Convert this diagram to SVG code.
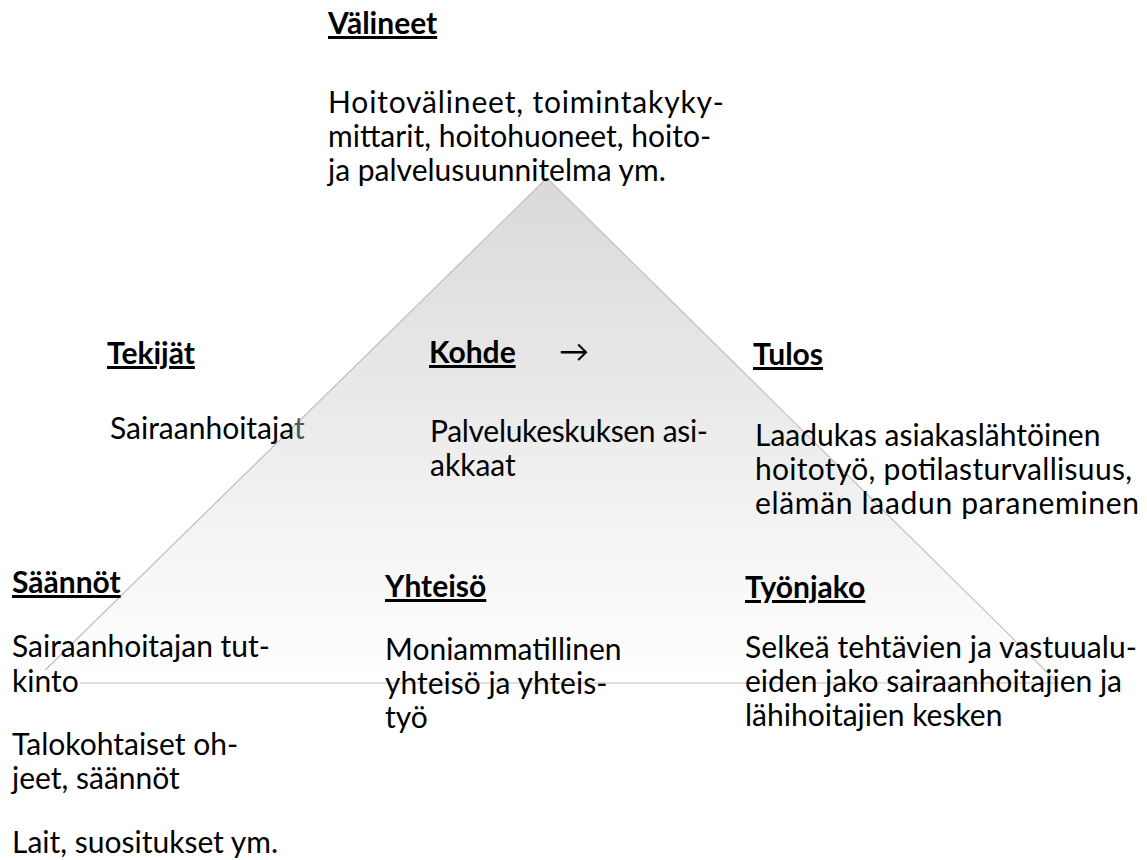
<svg xmlns="http://www.w3.org/2000/svg" width="1147" height="860" viewBox="0 0 1147 860">
<defs>
<linearGradient id="g" x1="0" y1="0" x2="0" y2="1">
<stop offset="0" stop-color="#d9d9d9"/>
<stop offset="1" stop-color="#ffffff"/>
</linearGradient>
<style>
text{font-family:Lato,"Open Sans","Liberation Sans",sans-serif;font-size:30px;fill:#000}
.h{font-weight:bold;text-decoration:underline}
</style>
</defs>
<rect width="1147" height="860" fill="#fff"/>
<g id="triangle">
<polygon points="547,178 32,683 1058,683" fill="url(#g)" stroke="#bfbfbf" stroke-width="1.2"/>
</g>
<g id="connectors"></g>
<g id="valineet">
<text class="h" x="328" y="34">Välineet</text>
<text x="328" y="113" textLength="396" lengthAdjust="spacing">Hoitovälineet, toimintakyky-</text>
<text x="328" y="147">mittarit, hoitohuoneet, hoito-</text>
<text x="328" y="181">ja palvelusuunnitelma ym.</text>
</g>
<g id="tekijat">
<text class="h" x="107" y="364">Tekijät</text>
<text x="110" y="439">Sairaanhoitaja<tspan fill="#555">t</tspan></text>
</g>
<g id="kohde">
<text class="h" x="429" y="363">Kohde</text>
<text x="559" y="362">→</text>
<text x="430" y="442" textLength="278" lengthAdjust="spacing">Palvelukeskuksen asi-</text>
<text x="430" y="476">akkaat</text>
</g>
<g id="tulos">
<text class="h" x="753" y="365">Tulos</text>
<text x="755" y="446">Laadukas asiakaslähtöinen</text>
<text x="755" y="480" textLength="377" lengthAdjust="spacing">hoitotyö, potilasturvallisuus,</text>
<text x="755" y="514" textLength="384" lengthAdjust="spacing">elämän laadun paraneminen</text>
</g>
<g id="saannot">
<text class="h" x="12" y="593">Säännöt</text>
<text x="12" y="657">Sairaanhoitajan tut-</text>
<rect x="12" y="670" width="68" height="26" fill="#fff"/>
<text x="12" y="692">kinto</text>
<text x="12" y="755">Talokohtaiset oh-</text>
<text x="12" y="789">jeet, säännöt</text>
<text x="12" y="853">Lait, suositukset ym.</text>
</g>
<g id="yhteiso">
<text class="h" x="385" y="597">Yhteisö</text>
<text x="385" y="660">Moniammatillinen</text>
<text x="385" y="694">yhteisö ja yhteis-</text>
<text x="385" y="728">työ</text>
</g>
<g id="tyonjako">
<text class="h" x="745" y="598">Työnjako</text>
<text x="745" y="658" textLength="392" lengthAdjust="spacing">Selkeä tehtävien ja vastuualu-</text>
<text x="745" y="692">eiden jako sairaanhoitajien ja</text>
<text x="745" y="726">lähihoitajien kesken</text>
</g>
</svg>
